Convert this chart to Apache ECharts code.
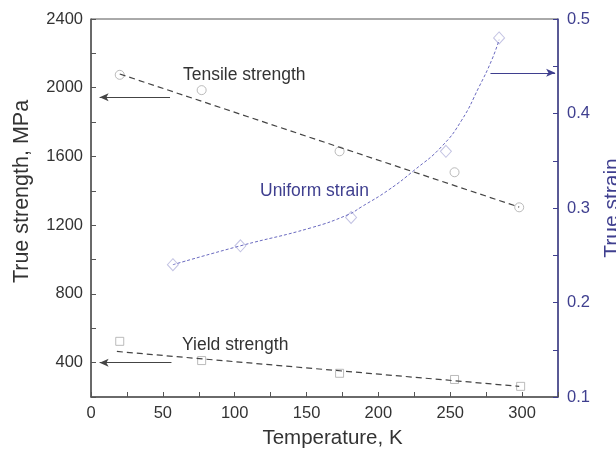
<!DOCTYPE html>
<html>
<head>
<meta charset="utf-8">
<script src="https://cdn.jsdelivr.net/npm/echarts@6/dist/echarts.min.js"></script>
<style>
  html, body { margin: 0; padding: 0; background: #fff; }
  #chart { width: 616px; height: 452px; }
</style>
</head>
<body>
<div id="chart"></div>
<script>
// measured points (temperature K)
const tensileT = [20, 77, 173, 253, 298];
const tensileS = [2075, 1986, 1630, 1508, 1304];
const tensileFit = [[20, 2080], [298, 1305]];

const yieldT = [20, 77, 173, 253, 299];
const yieldS = [524, 412, 338, 302, 262];
const yieldFit = [[18, 465], [298, 262]];

const strainT = [57, 104, 181, 247, 284];
const strainV = [0.240, 0.260, 0.290, 0.360, 0.480];
// fitted curve
const strainFit = [
  [57, 0.240], [104, 0.260], [153, 0.279], [179, 0.293], [188, 0.301],
  [207, 0.319], [225, 0.340], [244, 0.365], [258, 0.393], [270, 0.428],
  [279, 0.457], [284, 0.478]
];

const ink = '#333';
const navy = '#3f3f8f';

const zip = (xs, ys) => xs.map((x, i) => [x, ys[i]]);
const arrow = (from, to, color) => ({
  silent: true,
  symbol: ['none', 'arrow'],
  symbolSize: [6, 9],
  label: { show: false },
  lineStyle: { color: color, type: 'solid', width: 1 },
  data: [[{ coord: from }, { coord: to }]]
});

const chart = echarts.init(document.getElementById('chart'));
chart.setOption({
  animation: false,
  backgroundColor: '#fff',
  grid: { left: 91, right: 58, top: 19, bottom: 55, outerBoundsMode: 'none',
    show: true, borderColor: '#555', borderWidth: 1 },
  xAxis: {
    type: 'value', min: 0, max: 325, interval: 25,
    name: 'Temperature, K', nameLocation: 'middle', nameGap: 31,
    nameTextStyle: { fontSize: 20.5, color: ink, fontFamily: 'Liberation Sans', padding: [0, 0, 0, 16] },
    axisLine: { lineStyle: { color: '#555', width: 1.5 } },
    axisTick: { inside: true, length: 5, lineStyle: { color: '#555' } },
    axisLabel: { fontSize: 16.5, color: ink, fontFamily: 'Liberation Sans', margin: 8,
      formatter: v => (v % 50 === 0 ? String(v) : '') },
    splitLine: { show: false }
  },
  yAxis: [{
    type: 'value', min: 200, max: 2400, interval: 200,
    name: 'True strength, MPa', nameLocation: 'middle', nameGap: 58,
    nameTextStyle: { fontSize: 21.5, color: ink, fontFamily: 'Liberation Sans', padding: [0, 0, 0, 33] },
    axisLine: { lineStyle: { color: '#555', width: 1.5 } },
    axisTick: { inside: true, length: 5, lineStyle: { color: '#555' } },
    axisLabel: { fontSize: 16.5, color: ink, fontFamily: 'Liberation Sans', margin: 8,
      formatter: v => (v % 400 === 0 ? String(v) : '') },
    splitLine: { show: false }
  }, {
    type: 'value', min: 0.1, max: 0.5, interval: 0.05, position: 'right',
    name: 'True strain', nameLocation: 'middle', nameGap: 44,
    nameTextStyle: { fontSize: 21, color: navy, fontFamily: 'Liberation Sans', padding: [0, 0, 0, 0] },
    axisLine: { show: true, lineStyle: { color: navy, width: 1.5 } },
    axisTick: { show: true, inside: true, length: 5, lineStyle: { color: navy } },
    axisLabel: { fontSize: 16.5, color: navy, fontFamily: 'Liberation Sans', margin: 9,
      formatter: v => (Math.abs(v * 10 - Math.round(v * 10)) < 1e-6 ? v.toFixed(1) : '') },
    splitLine: { show: false }
  }],
  series: [{
    type: 'line', data: tensileFit, showSymbol: false, silent: true,
    lineStyle: { color: '#444', width: 1.2, type: [6, 4] },
    markLine: arrow([55, 1945], [6, 1945], '#444')
  }, {
    type: 'scatter', data: zip(tensileT, tensileS), symbol: 'circle', symbolSize: 9,
    itemStyle: { color: 'rgba(255,255,255,0)', borderColor: '#aaa', borderWidth: 1 }
  }, {
    type: 'line', data: yieldFit, showSymbol: false, silent: true,
    lineStyle: { color: '#444', width: 1.2, type: [6, 4] },
    markLine: arrow([56, 400], [6, 400], '#444')
  }, {
    type: 'scatter', data: zip(yieldT, yieldS), symbol: 'rect', symbolSize: 8,
    itemStyle: { color: 'rgba(255,255,255,0)', borderColor: '#aaa', borderWidth: 1 }
  }, {
    type: 'line', yAxisIndex: 1, data: strainFit, smooth: true, showSymbol: false, silent: true,
    lineStyle: { color: '#6a6ac0', width: 1, type: [3, 2] },
    markLine: arrow([278, 0.443], [323, 0.443], navy)
  }, {
    type: 'scatter', yAxisIndex: 1, data: zip(strainT, strainV), symbol: 'diamond', symbolSize: [11, 12],
    itemStyle: { color: 'rgba(255,255,255,0)', borderColor: '#b4b4dc', borderWidth: 1 }
  }],
  graphic: [
    { type: 'text', left: 183, top: 66, style: { text: 'Tensile strength', fontSize: 17.5, fill: ink, fontFamily: 'Liberation Sans' } },
    { type: 'text', left: 260, top: 182, style: { text: 'Uniform strain', fontSize: 17.5, fill: navy, fontFamily: 'Liberation Sans' } },
    { type: 'text', left: 182, top: 336, style: { text: 'Yield strength', fontSize: 17.5, fill: ink, fontFamily: 'Liberation Sans' } }
  ]
});
</script>
</body>
</html>
